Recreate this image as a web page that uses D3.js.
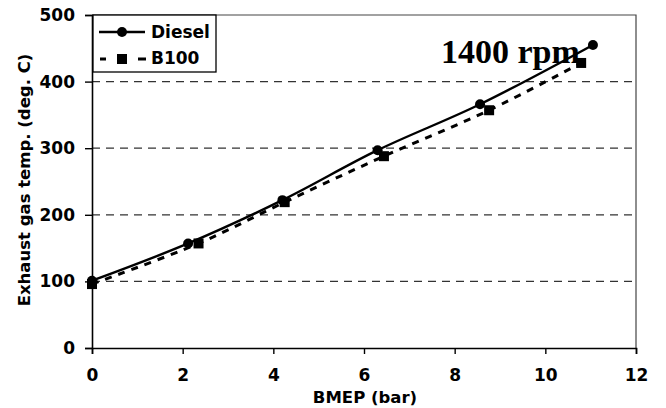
<!DOCTYPE html>
<html>
<head>
<meta charset="utf-8">
<script src="https://cdn.jsdelivr.net/npm/d3@7"></script>
<style>
  html, body { margin: 0; padding: 0; background: #fff; }
  svg { display: block; }
</style>
</head>
<body>
<svg id="chart" width="666" height="408"></svg>
<script>
// BMEP (bar) vs exhaust gas temperature (deg. C) at 1400 rpm
const dieselBmep = [0, 2.12, 4.2, 6.3, 8.56, 11.05];
const dieselTemp = [101, 157, 222, 297, 366, 455];
const b100Bmep = [0, 2.35, 4.25, 6.44, 8.76, 10.79];
const b100Temp = [96, 157, 219, 288, 357, 428];
const xTicks = [0, 2, 4, 6, 8, 10, 12];
const yTicks = [0, 100, 200, 300, 400, 500];
const seriesNames = ["Diesel", "B100"];

const svg = d3.select("#chart");
const m = { left: 92, right: 636, top: 15, bottom: 348 };
const x = d3.scaleLinear().domain([0, 12]).range([m.left, m.right]);
const y = d3.scaleLinear().domain([0, 500]).range([m.bottom, m.top]);
const font = "'DejaVu Sans', Verdana, sans-serif";

// dashed horizontal grid
svg.append("g").selectAll("line")
  .data(yTicks.filter(d => d > 0 && d < 500))
  .join("line")
  .attr("x1", m.left).attr("x2", m.right)
  .attr("y1", d => y(d)).attr("y2", d => y(d))
  .attr("stroke", "#333").attr("stroke-width", 1.2)
  .attr("stroke-dasharray", "8,6");

// top and right frame
svg.append("path")
  .attr("d", `M${m.left},${m.top}H${m.right}V${m.bottom}`)
  .attr("fill", "none").attr("stroke", "#444").attr("stroke-width", 1.2);

// axes
const xAxis = svg.append("g").attr("transform", `translate(0,${m.bottom})`)
  .call(d3.axisBottom(x).tickValues(xTicks).tickSize(6).tickPadding(15).tickFormat(d3.format("d")));
const yAxis = svg.append("g").attr("transform", `translate(${m.left},0)`)
  .call(d3.axisLeft(y).tickValues(yTicks).tickSize(7).tickPadding(10).tickFormat(d3.format("d")));
[xAxis, yAxis].forEach(a => {
  a.select(".domain").attr("stroke", "#000").attr("stroke-width", 1.6);
  a.selectAll(".tick line").attr("stroke", "#000").attr("stroke-width", 1.4);
  a.selectAll("text").attr("font-family", font).attr("font-size", 17)
    .attr("font-weight", "bold").attr("fill", "#000");
});

// axis titles
svg.append("text").attr("x", 365).attr("y", 403).attr("text-anchor", "middle")
  .attr("font-family", font).attr("font-size", 16.5).attr("font-weight", "bold")
  .text("BMEP (bar)");
svg.append("text").attr("transform", "translate(30,180) rotate(-90)")
  .attr("text-anchor", "middle")
  .attr("font-family", font).attr("font-size", 16.5).attr("font-weight", "bold")
  .text("Exhaust gas temp. (deg. C)");

// series
const diesel = dieselBmep.map((b, i) => [b, dieselTemp[i]]);
const b100 = b100Bmep.map((b, i) => [b, b100Temp[i]]);
const line = d3.line().x(d => x(d[0])).y(d => y(d[1])).curve(d3.curveCatmullRom.alpha(0.5));

svg.append("path").datum(b100).attr("d", line)
  .attr("fill", "none").attr("stroke", "#000").attr("stroke-width", 3)
  .attr("stroke-dasharray", "7,7");
svg.append("path").datum(diesel).attr("d", line)
  .attr("fill", "none").attr("stroke", "#000").attr("stroke-width", 2.4);

svg.append("g").selectAll("rect").data(b100).join("rect")
  .attr("x", d => x(d[0]) - 5).attr("y", d => y(d[1]) - 5)
  .attr("width", 10).attr("height", 10).attr("fill", "#000");
svg.append("g").selectAll("circle").data(diesel).join("circle")
  .attr("cx", d => x(d[0])).attr("cy", d => y(d[1])).attr("r", 5).attr("fill", "#000");

// speed label
svg.append("text").attr("x", 441).attr("y", 63)
  .attr("font-family", "'Times New Roman', 'Liberation Serif', serif")
  .attr("font-size", 34).attr("font-weight", "bold").text("1400 rpm");

// legend
const lg = svg.append("g");
lg.append("rect").attr("x", 93).attr("y", 15).attr("width", 123).attr("height", 57)
  .attr("fill", "#fff").attr("stroke", "#000").attr("stroke-width", 1.3);
lg.append("line").attr("x1", 99).attr("x2", 145).attr("y1", 32).attr("y2", 32)
  .attr("stroke", "#000").attr("stroke-width", 2.4);
lg.append("circle").attr("cx", 122).attr("cy", 32).attr("r", 5).attr("fill", "#000");
lg.append("line").attr("x1", 100).attr("x2", 146).attr("y1", 59).attr("y2", 59)
  .attr("stroke", "#000").attr("stroke-width", 3).attr("stroke-dasharray", "6,32,8");
lg.append("rect").attr("x", 117).attr("y", 54).attr("width", 10).attr("height", 10).attr("fill", "#000");
lg.selectAll("text").data(seriesNames).join("text")
  .attr("x", 151).attr("y", (d, i) => 38 + i * 26)
  .attr("font-family", font).attr("font-size", 17).attr("font-weight", "bold")
  .text(d => d);
</script>
</body>
</html>
